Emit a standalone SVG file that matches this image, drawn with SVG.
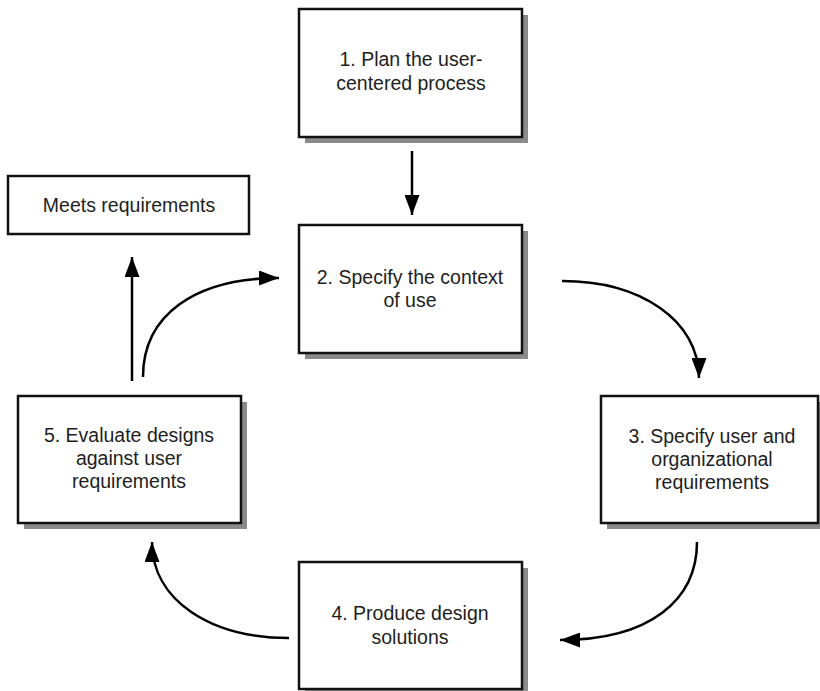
<svg xmlns="http://www.w3.org/2000/svg" width="820" height="691" viewBox="0 0 820 691">
  <style>
    .box { fill: #ffffff; stroke: #111111; stroke-width: 2.5; }
    .shadow { fill: #8a8a8a; }
    .label { font-family: "Liberation Sans", Arial, sans-serif; font-size: 19.5px; fill: #1e1e1e; text-anchor: middle; }
    .conn { fill: none; stroke: #000000; stroke-width: 2.5; }
  </style>
  <defs>
    <marker id="arrow" markerUnits="userSpaceOnUse" markerWidth="21" markerHeight="15" refX="20" refY="7.5" orient="auto">
      <path d="M0,0 L20,7.5 L0,15 z" fill="#000000"/>
    </marker>
  </defs>
  <rect width="820" height="691" fill="#ffffff"/>

  <g id="node1">
    <rect class="shadow" x="305" y="15" width="223" height="128"/>
    <rect class="box" x="299" y="9" width="223" height="128"/>
    <text class="label" x="411" y="66">1. Plan the user-</text>
    <text class="label" x="411" y="90">centered process</text>
  </g>

  <g id="node-meets">
    <rect class="box" x="8" y="176" width="241" height="58"/>
    <text class="label" x="129" y="212">Meets requirements</text>
  </g>

  <g id="node2">
    <rect class="shadow" x="305" y="231" width="223" height="128"/>
    <rect class="box" x="299" y="225" width="223" height="128"/>
    <text class="label" x="410" y="284">2. Specify the context</text>
    <text class="label" x="410" y="307">of use</text>
  </g>

  <g id="node3">
    <rect class="shadow" x="607" y="402" width="220" height="127"/>
    <rect class="box" x="601" y="396" width="217" height="127"/>
    <text class="label" x="712" y="443">3. Specify user and</text>
    <text class="label" x="712" y="466">organizational</text>
    <text class="label" x="712" y="489">requirements</text>
  </g>

  <g id="node4">
    <rect class="shadow" x="305" y="568" width="223" height="127"/>
    <rect class="box" x="299" y="562" width="223" height="127"/>
    <text class="label" x="410" y="620">4. Produce design</text>
    <text class="label" x="410" y="644">solutions</text>
  </g>

  <g id="node5">
    <rect class="shadow" x="24" y="402" width="223" height="127"/>
    <rect class="box" x="18" y="396" width="223" height="127"/>
    <text class="label" x="129" y="442">5. Evaluate designs</text>
    <text class="label" x="129" y="465">against user</text>
    <text class="label" x="129" y="488">requirements</text>
  </g>

  <g id="connectors">
    <path class="conn" d="M412,151 L412,215" marker-end="url(#arrow)"/>
    <path class="conn" d="M132,381 L132,257" marker-end="url(#arrow)"/>
    <path class="conn" d="M143,377 C143,315 195,278 279,278" marker-end="url(#arrow)"/>
    <path class="conn" d="M562,281 C640,281 699,320 699,378" marker-end="url(#arrow)"/>
    <path class="conn" d="M697,542 C697,600 650,640 560,640" marker-end="url(#arrow)"/>
    <path class="conn" d="M289,638 C210,638 152,600 152,542" marker-end="url(#arrow)"/>
  </g>
</svg>
